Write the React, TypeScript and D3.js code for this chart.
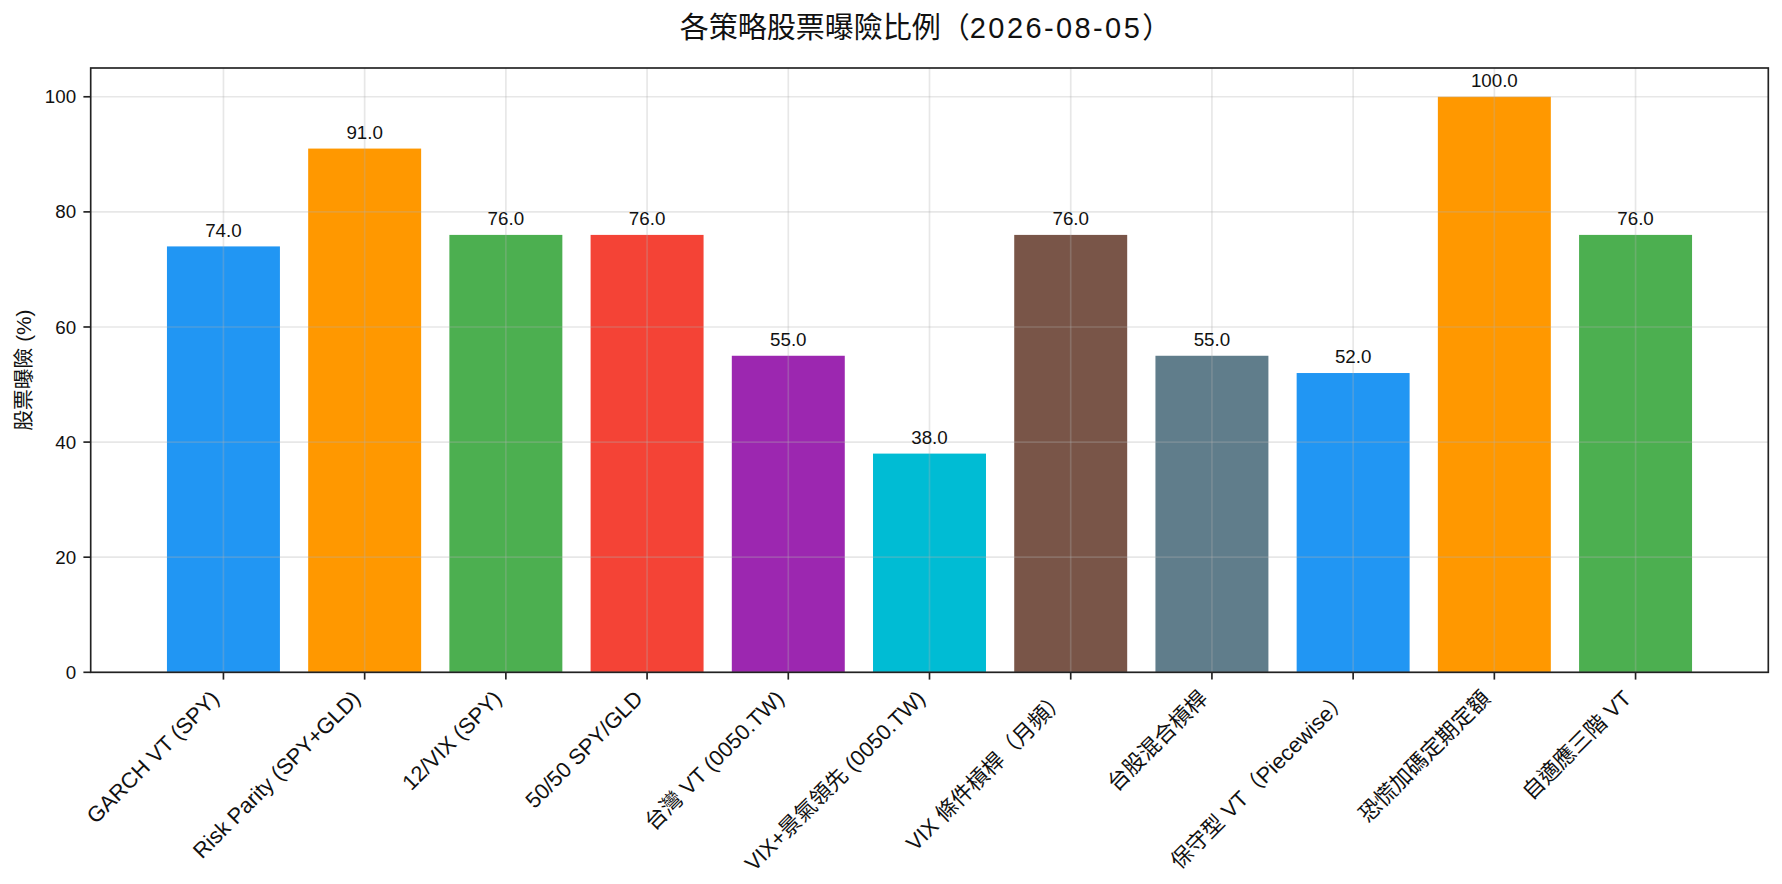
import React, { useEffect, useRef } from "react";
import * as d3 from "d3";

const categories = [
  "GARCH VT (SPY)",
  "Risk Parity (SPY+GLD)",
  "12/VIX (SPY)",
  "50/50 SPY/GLD",
  "台灣 VT (0050.TW)",
  "VIX+景氣領先 (0050.TW)",
  "VIX 條件槓桿（月頻）",
  "台股混合槓桿",
  "保守型 VT（Piecewise）",
  "恐慌加碼定期定額",
  "自適應三階 VT",
];
const exposures = [74, 91, 76, 76, 55, 38, 76, 55, 52, 100, 76];
const barColors = [
  "#2196F3", "#FF9800", "#4CAF50", "#F44336", "#9C27B0", "#00BCD4",
  "#795548", "#607D8B", "#2196F3", "#FF9800", "#4CAF50",
];
const yTicks = [0, 20, 40, 60, 80, 100];
const titleMain = "各策略股票曝險比例（";
const titleDate = "2026-08-05";
const titleEnd = "）";
const yLabelText = "股票曝險 (%)";

const W = 1782;
const H = 884;
const FONT = '"Liberation Sans", "Noto Sans CJK TC", sans-serif';

export default function App() {
  const ref = useRef<SVGSVGElement | null>(null);

  useEffect(() => {
    document.body.style.margin = "0";
    const svg = d3.select(ref.current);
    svg.selectAll("*").remove();

    const left = 90.7, right = 1768.3, top = 68, bottom = 672.3;
    const n = categories.length;
    const x = d3.scaleLinear().domain([-0.94, n - 1 + 0.94]).range([left, right]);
    const y = d3.scaleLinear().domain([0, 105]).range([bottom, top]);
    const barW = x(0.8) - x(0);
    const tickLen = 7.3;
    const pad = 7.3;

    svg.append("rect").attr("width", W).attr("height", H).attr("fill", "#fff");

    // bars
    svg.append("g")
      .selectAll("rect")
      .data(exposures)
      .join("rect")
      .attr("x", (_, i) => x(i) - barW / 2)
      .attr("width", barW)
      .attr("y", (d) => y(d))
      .attr("height", (d) => y(0) - y(d))
      .attr("fill", (_, i) => barColors[i]);

    // grid (drawn above bars)
    const grid = svg.append("g")
      .attr("stroke", "#b0b0b0")
      .attr("stroke-opacity", 0.3)
      .attr("stroke-width", 1.67);
    grid.selectAll("line.h")
      .data(yTicks)
      .join("line")
      .attr("class", "h")
      .attr("x1", left).attr("x2", right)
      .attr("y1", (d) => y(d)).attr("y2", (d) => y(d));
    grid.selectAll("line.v")
      .data(d3.range(n))
      .join("line")
      .attr("class", "v")
      .attr("y1", top).attr("y2", bottom)
      .attr("x1", (d) => x(d)).attr("x2", (d) => x(d));

    // value labels
    svg.append("g")
      .selectAll("text")
      .data(exposures)
      .join("text")
      .attr("x", (_, i) => x(i))
      .attr("y", (d) => y(d + 1) - 4)
      .attr("text-anchor", "middle")
      .attr("font-family", FONT)
      .attr("font-size", 18.75)
      .attr("fill", "#111")
      .text((d) => d.toFixed(1));

    // spines
    svg.append("rect")
      .attr("x", left).attr("y", top)
      .attr("width", right - left).attr("height", bottom - top)
      .attr("fill", "none").attr("stroke", "#222").attr("stroke-width", 1.67);

    // y ticks
    const yt = svg.append("g");
    yt.selectAll("line")
      .data(yTicks)
      .join("line")
      .attr("x1", left - tickLen).attr("x2", left)
      .attr("y1", (d) => y(d)).attr("y2", (d) => y(d))
      .attr("stroke", "#222").attr("stroke-width", 1.67);
    yt.selectAll("text")
      .data(yTicks)
      .join("text")
      .attr("x", left - tickLen - pad)
      .attr("y", (d) => y(d))
      .attr("dy", "0.35em")
      .attr("text-anchor", "end")
      .attr("font-family", FONT)
      .attr("font-size", 18.75)
      .attr("fill", "#111")
      .text((d) => String(d));

    // x ticks
    const xt = svg.append("g");
    xt.selectAll("line")
      .data(d3.range(n))
      .join("line")
      .attr("x1", (d) => x(d)).attr("x2", (d) => x(d))
      .attr("y1", bottom).attr("y2", bottom + tickLen)
      .attr("stroke", "#222").attr("stroke-width", 1.67);
    xt.selectAll("text")
      .data(categories)
      .join("text")
      .attr("transform", (_, i) => `translate(${x(i) - 3},${bottom + tickLen + pad + 13}) rotate(-45)`)
      .attr("text-anchor", "end")
      .attr("font-family", FONT)
      .attr("font-size", 21.8)
      .attr("fill", "#111")
      .text((d) => d);

    // y label
    svg.append("text")
      .attr("transform", `translate(31,${(top + bottom) / 2}) rotate(-90)`)
      .attr("text-anchor", "middle")
      .attr("font-family", FONT)
      .attr("font-size", 20.8)
      .attr("fill", "#111")
      .text(yLabelText);

    // title
    const title = svg.append("text")
      .attr("x", (left + right) / 2 - 4)
      .attr("y", 38)
      .attr("text-anchor", "middle")
      .attr("font-family", FONT)
      .attr("font-size", 29)
      .attr("fill", "#111");
    title.append("tspan").text(titleMain);
    title.append("tspan").attr("letter-spacing", 2.4).text(titleDate);
    title.append("tspan").text(titleEnd);
  }, []);

  return <svg ref={ref} width={W} height={H} style={{ display: "block" }} />;
}
